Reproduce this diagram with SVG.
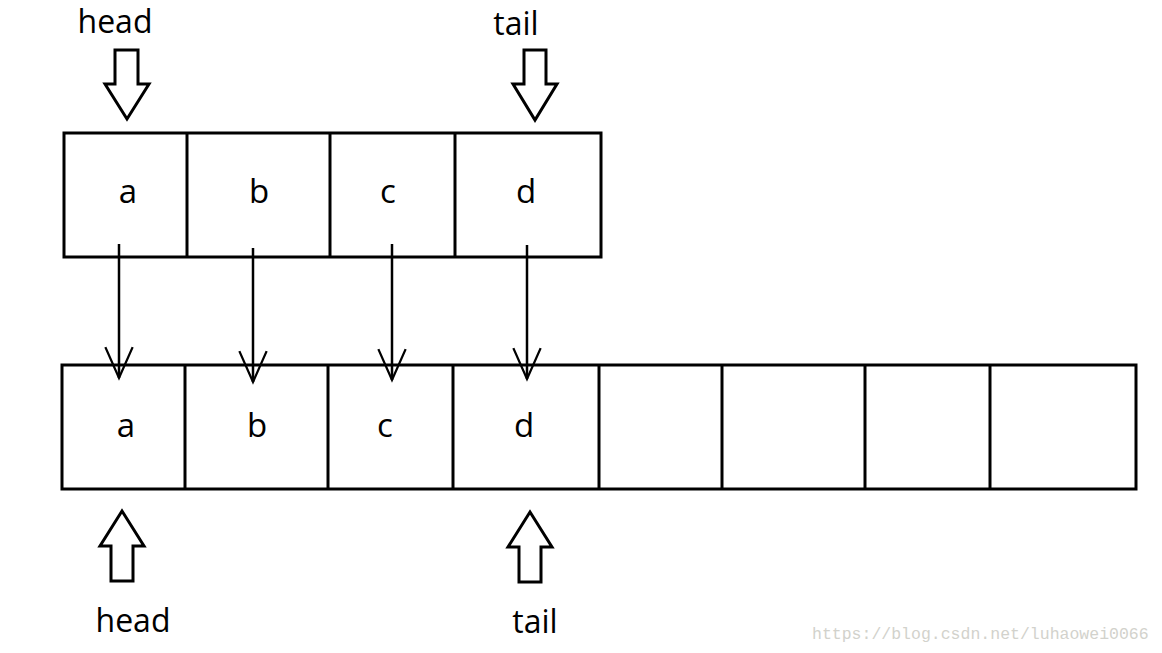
<svg xmlns="http://www.w3.org/2000/svg" width="1162" height="653" viewBox="0 0 1162 653">
<defs>
<style>
.box{fill:none;stroke:#000;stroke-width:3}
.div{stroke:#000;stroke-width:3}
.lbl{font-family:"Open Sans","Noto Sans",sans-serif;font-size:32px;fill:#000;text-anchor:middle}
.cell{font-family:"Open Sans","Noto Sans",sans-serif;font-size:33px;fill:#000;text-anchor:middle}
.ptr{fill:#fff;stroke:#000;stroke-width:3;stroke-linejoin:miter}
.conn{stroke:#000;stroke-width:2.5;fill:none}
.wm{font-family:"Liberation Mono",monospace;font-size:16.5px;fill:#d2d2cc}
</style>
<marker id="vhead" markerUnits="userSpaceOnUse" markerWidth="40" markerHeight="40" viewBox="-40 -20 44 40" refX="0" refY="0" orient="auto">
<path d="M-34,-15 L0,0 L-34,15" fill="none" stroke="#000" stroke-width="2.5"/>
</marker>
</defs>
<rect width="1162" height="653" fill="#fff"/>

<g id="top-array">
<rect class="box" x="64" y="133" width="537" height="124"/>
<line class="div" x1="187" y1="133" x2="187" y2="257"/>
<line class="div" x1="330" y1="133" x2="330" y2="257"/>
<line class="div" x1="455" y1="133" x2="455" y2="257"/>
<text class="cell" x="128" y="203">a</text>
<text class="cell" x="259" y="203">b</text>
<text class="cell" x="388" y="203">c</text>
<text class="cell" x="526" y="203">d</text>
</g>

<g id="bottom-array">
<rect class="box" x="62" y="365" width="1074" height="124"/>
<line class="div" x1="185" y1="365" x2="185" y2="489"/>
<line class="div" x1="328" y1="365" x2="328" y2="489"/>
<line class="div" x1="453" y1="365" x2="453" y2="489"/>
<line class="div" x1="599" y1="365" x2="599" y2="489"/>
<line class="div" x1="722" y1="365" x2="722" y2="489"/>
<line class="div" x1="865" y1="365" x2="865" y2="489"/>
<line class="div" x1="990" y1="365" x2="990" y2="489"/>
<text class="cell" x="126" y="437">a</text>
<text class="cell" x="257" y="437">b</text>
<text class="cell" x="385" y="437">c</text>
<text class="cell" x="524" y="437">d</text>
</g>

<g id="top-head">
<text class="lbl" x="115" y="33">head</text>
<polygon class="ptr" points="115,50 138,50 138,84 149,84 127,119 105,84 115,84"/>
</g>
<g id="top-tail">
<text class="lbl" x="516" y="35">tail</text>
<polygon class="ptr" points="524,50 546,50 546,84 557,84 535,120 513,84 524,84"/>
</g>
<g id="bottom-head">
<polygon class="ptr" points="122,511 144,546 133,546 133,581 111,581 111,546 100,546"/>
<text class="lbl" x="133" y="632">head</text>
</g>
<g id="bottom-tail">
<polygon class="ptr" points="530,512 552,547 541,547 541,582 519,582 519,547 508,547"/>
<text class="lbl" x="535" y="633">tail</text>
</g>

<g id="connectors">
<line class="conn" x1="119" y1="244" x2="119" y2="378" marker-end="url(#vhead)"/>
<line class="conn" x1="253" y1="248" x2="253" y2="382" marker-end="url(#vhead)"/>
<line class="conn" x1="392" y1="244" x2="392" y2="380" marker-end="url(#vhead)"/>
<line class="conn" x1="527" y1="245" x2="527" y2="379" marker-end="url(#vhead)"/>
</g>

<text class="wm" x="812" y="639">https://blog.csdn.net/luhaowei0066</text>
</svg>
